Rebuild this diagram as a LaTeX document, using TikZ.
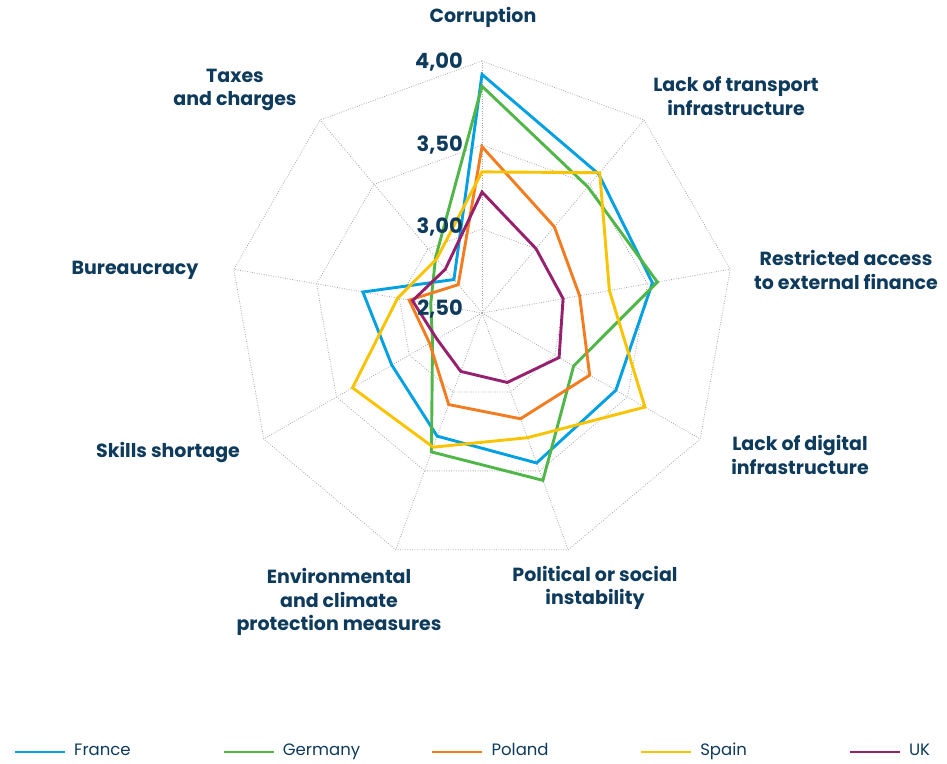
\documentclass[tikz,border=0pt]{standalone}
\usepackage{fontspec}
\setmainfont{Poppins}
\usetikzlibrary{positioning}
\definecolor{mynavy}{RGB}{14,58,92}
\definecolor{myblue}{RGB}{0,160,227}
\definecolor{mygreen}{RGB}{80,182,72}
\definecolor{myorange}{RGB}{244,124,32}
\definecolor{myyellow}{RGB}{250,195,0}
\definecolor{mypurple}{RGB}{150,32,110}
\tikzstyle{gridline}=[gray!70,line width=0.8pt,dash pattern=on 0.8pt off 1.6pt]
\tikzstyle{serie}=[line width=2.9pt,line join=miter]
\tikzstyle{france}=[serie,myblue]
\tikzstyle{germany}=[serie,mygreen]
\tikzstyle{poland}=[serie,myorange]
\tikzstyle{spain}=[serie,myyellow]
\tikzstyle{uk}=[serie,mypurple]
\tikzstyle{catlabel}=[text=mynavy,font=\fontsize{19}{23.5}\selectfont\bfseries,align=center]
\tikzstyle{vallabel}=[text=mynavy,font=\fontsize{21}{24}\selectfont\bfseries,anchor=east,inner sep=0pt]
\tikzstyle{legtext}=[text=mynavy,font=\fontsize{16.5}{18}\selectfont,anchor=west,inner sep=0pt,text height=0.7em,text depth=0em]

\begin{document}
\begin{tikzpicture}[x=1pt,y=1pt]
\useasboundingbox (0,0) rectangle (947,763);
\begin{scope}[shift={(482,450)}]
\coordinate (c) at (0,0);
\foreach \i in {0,...,8}
  \draw[gridline] (c) -- ({90-40*\i}:252);
\foreach \r in {84,168,252}
  \draw[gridline] (90:\r) \foreach \i in {1,...,8} {-- ({90-40*\i}:\r)} -- cycle;
\foreach \nm/\vals in {france/{3.92,3.58,3.53,3.42,3.45,3.28,3.12,3.22,2.76},
                       germany/{3.85,3.48,3.56,3.13,3.56,3.38,2.84,2.81,2.93},
                       poland/{3.49,3.17,3.09,3.24,3.17,3.08,2.86,2.94,2.72},
                       spain/{3.34,3.59,3.27,3.62,3.29,3.35,3.39,3.01,2.92},
                       uk/{3.22,3.00,2.99,3.03,2.94,2.87,2.81,2.92,2.84}} {
  \foreach \v [count=\i from 0] in \vals
    \coordinate (\nm\i) at ({90-40*\i}:{(\v-2.5)*168});
}
\foreach \nm in {france,germany,poland,spain,uk}
  \draw[\nm] (\nm0) \foreach \i in {1,...,8} {-- (\nm\i)} -- cycle;
\end{scope}
\node[vallabel] (v400) at (463,701) {4,00};
\node[vallabel] (v350) at (463,618) {3,50};
\node[vallabel] (v300) at (463,536) {3,00};
\node[vallabel] (v250) at (463,454) {2,50};
\node[catlabel] (corr) at (483,746) {Corruption};
\node[catlabel] (trans) at (736,667) {Lack of transport\\infrastructure};
\node[catlabel] (fin) at (846,493) {Restricted access\\to external finance};
\node[catlabel] (digi) at (800,308) {Lack of digital\\infrastructure};
\node[catlabel] (poli) at (595,175) {Political or social\\instability};
\node[catlabel] (envi) at (339,161) {Environmental\\and climate\\protection measures};
\node[catlabel] (skill) at (168,310) {Skills shortage};
\node[catlabel] (bur) at (135,493) {Bureaucracy};
\node[catlabel] (tax) at (235,673) {Taxes\\and charges};
\foreach \nm/\lab [count=\k from 0] in {france/France,germany/Germany,poland/Poland,spain/Spain,uk/UK} {
  \draw[\nm] ({15+208.7*\k},11) -- ({65+208.7*\k},11) coordinate (leg\nm);
  \node[legtext,right=9pt of leg\nm] (txt\nm) {\lab};
}
\end{tikzpicture}
\end{document}
